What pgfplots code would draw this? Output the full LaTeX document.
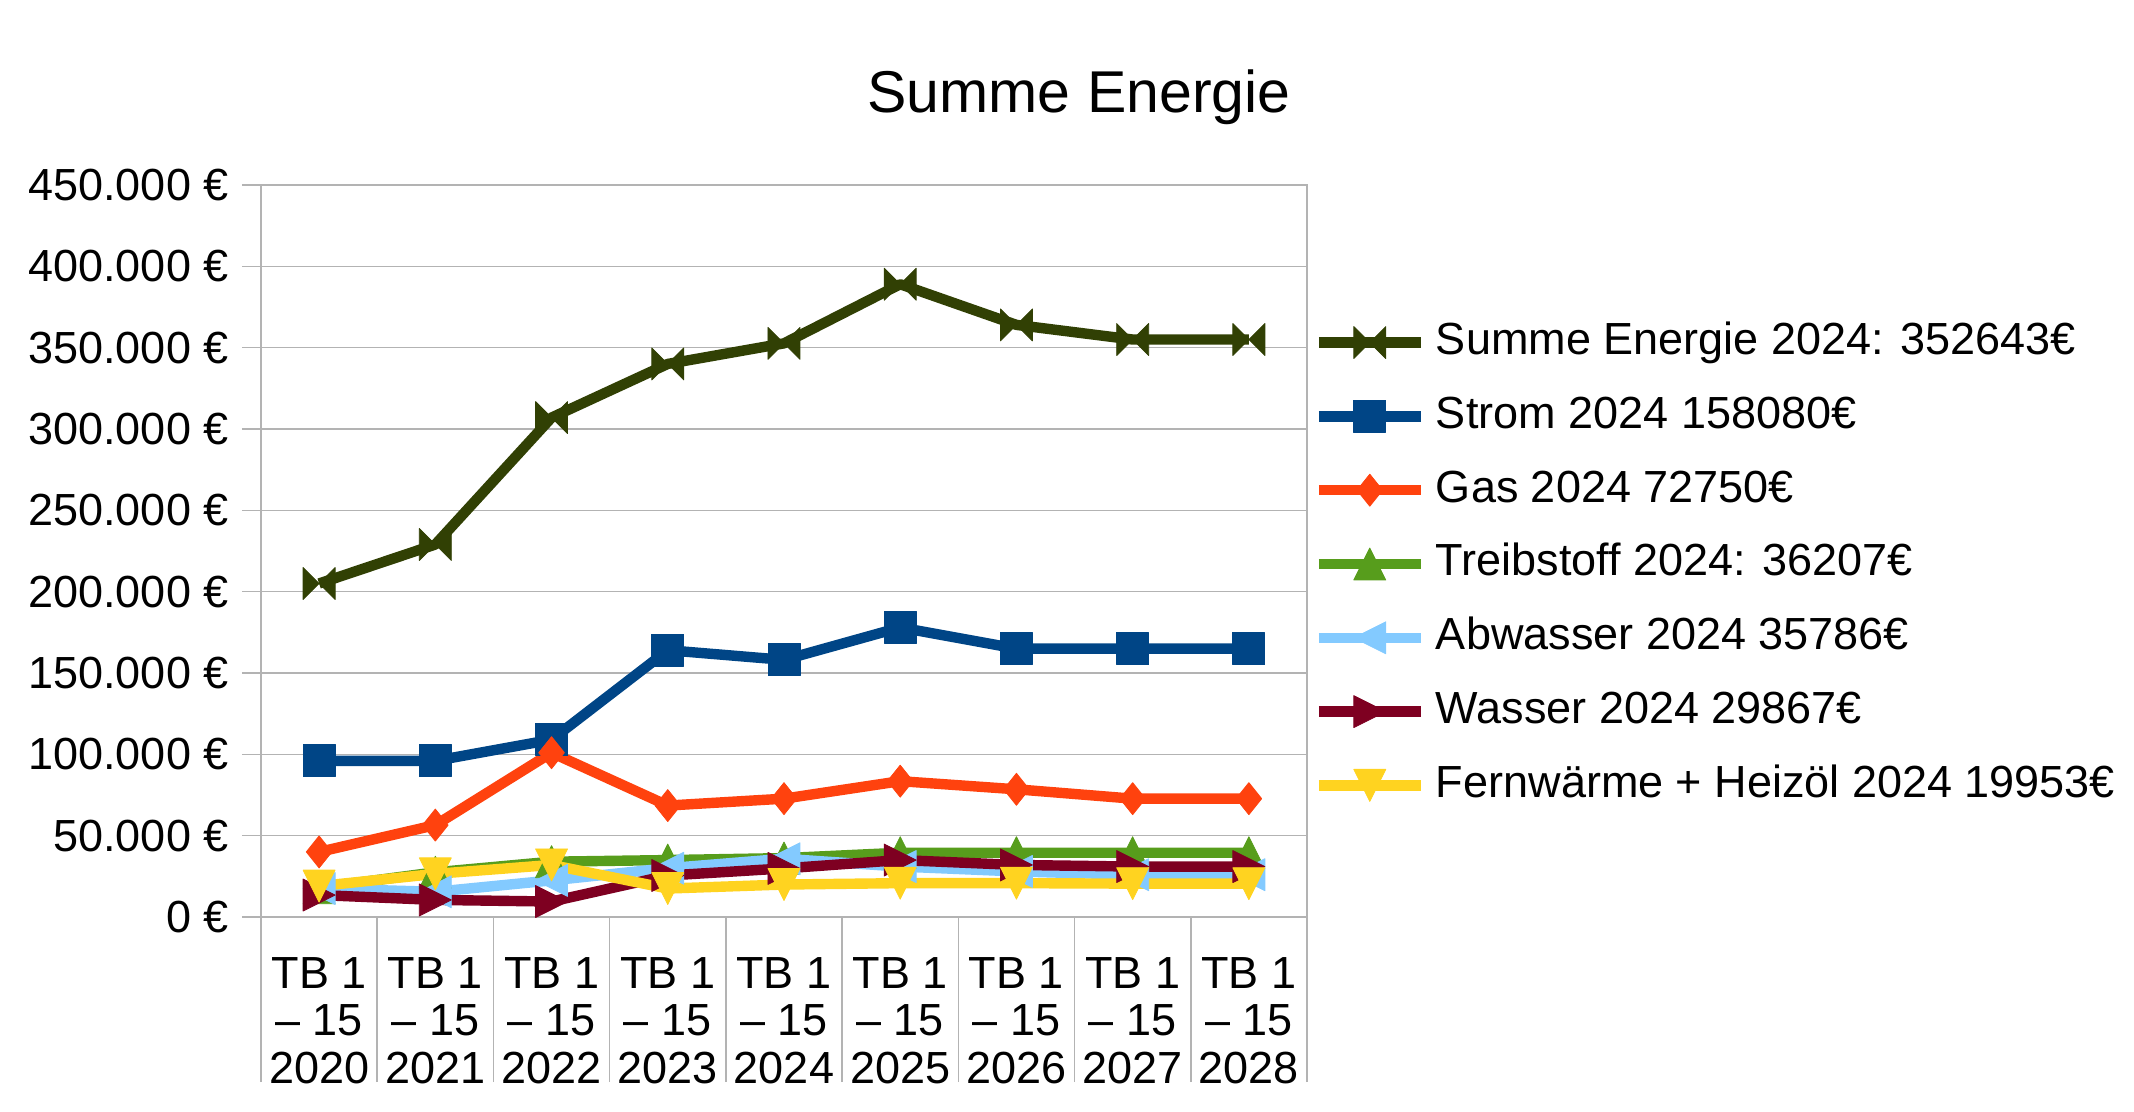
\documentclass[border=0pt]{standalone}
\usepackage{pgfplots}
\pgfplotsset{compat=1.18}
\usepackage{fontspec}
\setmainfont{Liberation Sans}

\definecolor{summe}{HTML}{314004}
\definecolor{strom}{HTML}{004586}
\definecolor{gas}{HTML}{FF420E}
\definecolor{treib}{HTML}{579D1C}
\definecolor{abw}{HTML}{83CAFF}
\definecolor{wasser}{HTML}{7E0021}
\definecolor{fern}{HTML}{FFD320}
\definecolor{gridgray}{HTML}{B3B3B3}

% LibreOffice-like symbols, all filling a box of half size \pgfplotmarksize
\pgfdeclareplotmark{bowtie}{%
  \pgfpathmoveto{\pgfpoint{-\pgfplotmarksize}{\pgfplotmarksize}}%
  \pgfpathlineto{\pgfpoint{\pgfplotmarksize}{-\pgfplotmarksize}}%
  \pgfpathlineto{\pgfpoint{\pgfplotmarksize}{\pgfplotmarksize}}%
  \pgfpathlineto{\pgfpoint{-\pgfplotmarksize}{-\pgfplotmarksize}}%
  \pgfpathclose\pgfusepathqfillstroke}
\pgfdeclareplotmark{box}{%
  \pgfpathrectangle{\pgfpoint{-\pgfplotmarksize}{-\pgfplotmarksize}}%
    {\pgfpoint{2\pgfplotmarksize}{2\pgfplotmarksize}}%
  \pgfusepathqfillstroke}
\pgfdeclareplotmark{rhomb}{%
  \pgfpathmoveto{\pgfpoint{0pt}{\pgfplotmarksize}}%
  \pgfpathlineto{\pgfpoint{0.8\pgfplotmarksize}{0pt}}%
  \pgfpathlineto{\pgfpoint{0pt}{-\pgfplotmarksize}}%
  \pgfpathlineto{\pgfpoint{-0.8\pgfplotmarksize}{0pt}}%
  \pgfpathclose\pgfusepathqfillstroke}
\pgfdeclareplotmark{triup}{%
  \pgfpathmoveto{\pgfpoint{-\pgfplotmarksize}{-\pgfplotmarksize}}%
  \pgfpathlineto{\pgfpoint{\pgfplotmarksize}{-\pgfplotmarksize}}%
  \pgfpathlineto{\pgfpoint{0pt}{\pgfplotmarksize}}%
  \pgfpathclose\pgfusepathqfillstroke}
\pgfdeclareplotmark{tridown}{%
  \pgfpathmoveto{\pgfpoint{-\pgfplotmarksize}{\pgfplotmarksize}}%
  \pgfpathlineto{\pgfpoint{\pgfplotmarksize}{\pgfplotmarksize}}%
  \pgfpathlineto{\pgfpoint{0pt}{-\pgfplotmarksize}}%
  \pgfpathclose\pgfusepathqfillstroke}
\pgfdeclareplotmark{trileft}{%
  \pgfpathmoveto{\pgfpoint{\pgfplotmarksize}{\pgfplotmarksize}}%
  \pgfpathlineto{\pgfpoint{\pgfplotmarksize}{-\pgfplotmarksize}}%
  \pgfpathlineto{\pgfpoint{-\pgfplotmarksize}{0pt}}%
  \pgfpathclose\pgfusepathqfillstroke}
\pgfdeclareplotmark{triright}{%
  \pgfpathmoveto{\pgfpoint{-\pgfplotmarksize}{\pgfplotmarksize}}%
  \pgfpathlineto{\pgfpoint{-\pgfplotmarksize}{-\pgfplotmarksize}}%
  \pgfpathlineto{\pgfpoint{\pgfplotmarksize}{0pt}}%
  \pgfpathclose\pgfusepathqfillstroke}

\pgfplotsset{
  serie/.style={
    color=#1, line width=5.2pt, line join=round,
    mark size=8pt, mark options={solid, fill=#1, line width=0.4pt},
  },
}

\begin{document}
\begin{tikzpicture}
  \useasboundingbox (0,0) rectangle (1067pt,556pt);
  \begin{axis}[
    at={(130.5pt,97.5pt)}, anchor=south west,
    scale only axis, width=523pt, height=366pt,
    font=\fontsize{22.5}{23.8}\selectfont,
    title={Summe Energie},
    title style={font=\fontsize{29.5}{30}\selectfont, at={(axis description cs:0.782,1)},
      anchor=center, yshift=38pt},
    xmin=-0.5, xmax=8.5,
    ymin=0, ymax=450000,
    xtick={0,...,8},
    xticklabels={
      {TB 1\\– 15\\2020}, {TB 1\\– 15\\2021}, {TB 1\\– 15\\2022},
      {TB 1\\– 15\\2023}, {TB 1\\– 15\\2024}, {TB 1\\– 15\\2025},
      {TB 1\\– 15\\2026}, {TB 1\\– 15\\2027}, {TB 1\\– 15\\2028}},
    xticklabel style={align=center, inner sep=0pt, yshift=-10.5pt},
    major x tick style={draw=none},
    minor xtick={-0.5,0.5,...,8.5},
    minor tick length=82.5pt,
    ytick={0,50000,...,450000},
    yticklabels={0 €, 50.000 €, 100.000 €, 150.000 €, 200.000 €, 250.000 €,
      300.000 €, 350.000 €, 400.000 €, 450.000 €},
    yticklabel style={inner sep=0pt, xshift=-6.5pt},
    scaled y ticks=false,
    tick align=outside, major tick length=9.5pt,
    xtick pos=bottom, ytick pos=left,
    tick style={color=gridgray, line width=0.8pt},
    ymajorgrids, major grid style={color=gridgray, line width=0.8pt},
    axis line style={color=gridgray, line width=0.8pt},
    legend cell align=left,
    legend style={draw=none, fill=none, inner sep=0pt,
      at={(axis description cs:1,0.5)}, anchor=west, xshift=3.1pt, yshift=-6.5pt,
      font=\fontsize{22.5}{23.8}\selectfont,
      nodes={inner sep=0pt, text height=17pt, text depth=5pt},
      row sep=14.9pt,
      /tikz/every odd column/.append style={column sep=5pt}},
    legend image code/.code={
      \draw[mark repeat=2, mark phase=2, #1]
        plot coordinates {(0pt,0pt) (25.5pt,0pt) (51pt,0pt)};
    },
  ]

  % Summe Energie
  \addplot[serie=summe, mark=bowtie] coordinates {
    (0,205000) (1,229000) (2,307000) (3,340000) (4,352643)
    (5,389000) (6,364000) (7,355000) (8,355000)
  };
  % Strom
  \addplot[serie=strom, mark=box] coordinates {
    (0,96000) (1,96000) (2,109000) (3,164000) (4,158080)
    (5,178000) (6,165000) (7,165000) (8,165000)
  };
  % Gas
  \addplot[serie=gas, mark=rhomb] coordinates {
    (0,40000) (1,56500) (2,101000) (3,68500) (4,72750)
    (5,83500) (6,78500) (7,72750) (8,72750)
  };
  % Treibstoff
  \addplot[serie=treib, mark=triup] coordinates {
    (0,18000) (1,27500) (2,34000) (3,35000) (4,36207)
    (5,39500) (6,39500) (7,39500) (8,39500)
  };
  % Abwasser
  \addplot[serie=abw, mark=trileft] coordinates {
    (0,17500) (1,15500) (2,22500) (3,30000) (4,35786)
    (5,31000) (6,28000) (7,26000) (8,26000)
  };
  % Wasser
  \addplot[serie=wasser, mark=triright] coordinates {
    (0,13500) (1,10500) (2,9500) (3,25500) (4,29867)
    (5,35000) (6,32000) (7,31000) (8,31000)
  };
  % Fernwaerme + Heizoel
  \addplot[serie=fern, mark=tridown] coordinates {
    (0,19000) (1,26500) (2,32000) (3,17500) (4,19953)
    (5,20800) (6,20800) (7,20500) (8,20500)
  };

  \legend{Summe Energie 2024: 352643€, Strom 2024 158080€, Gas 2024 72750€,
    Treibstoff 2024: 36207€, Abwasser 2024 35786€, Wasser 2024 29867€,
    Fernwärme + Heizöl 2024 19953€}
  \end{axis}
\end{tikzpicture}
\end{document}
